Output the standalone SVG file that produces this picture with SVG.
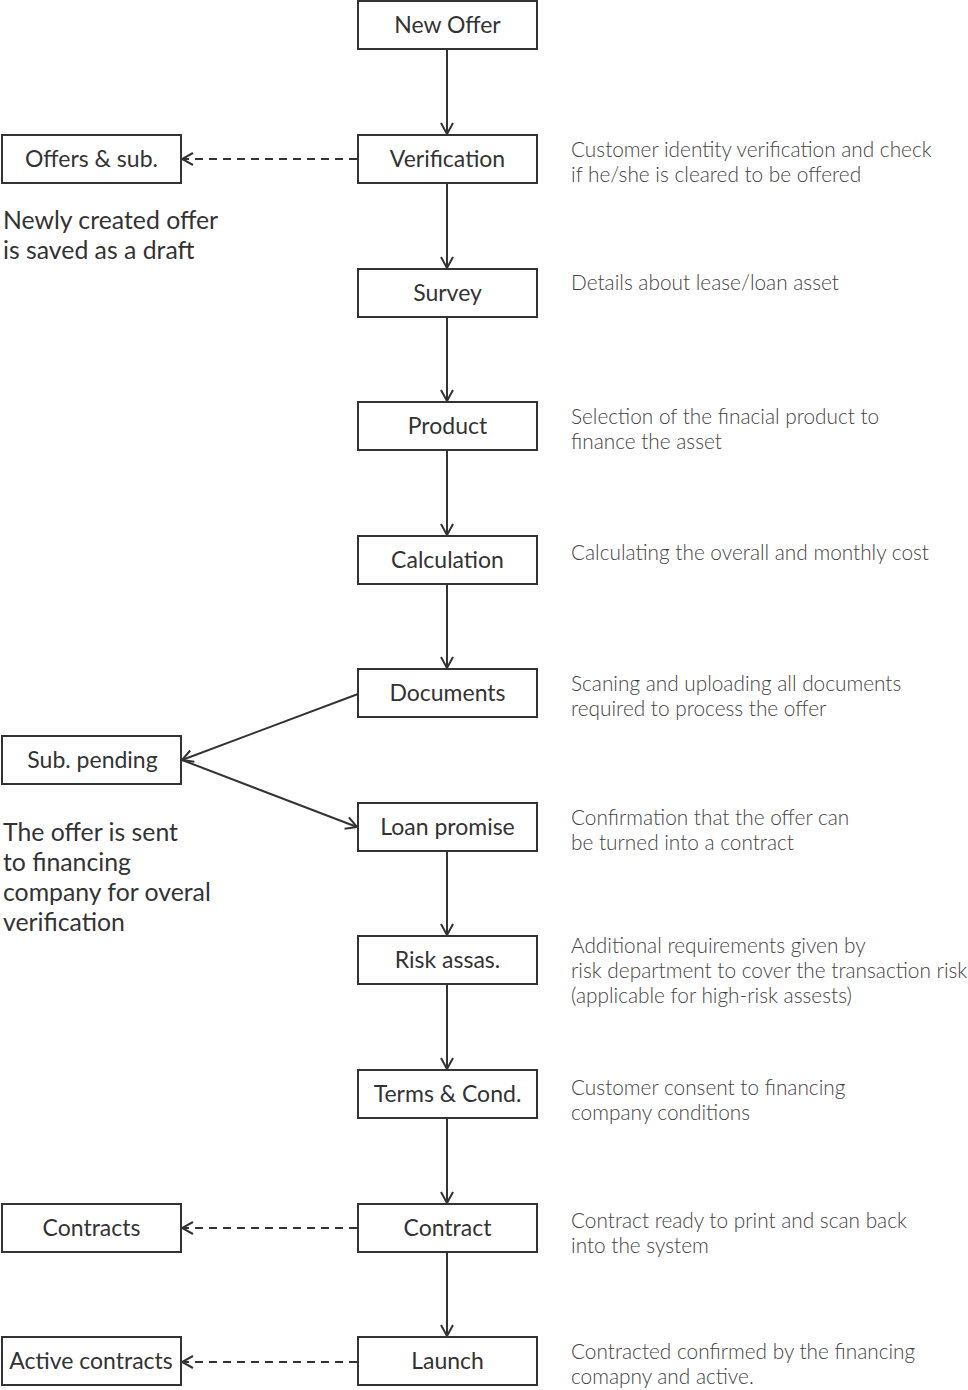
<svg xmlns="http://www.w3.org/2000/svg" width="968" height="1390" viewBox="0 0 968 1390">
<defs>
<marker id="arr" viewBox="0 0 14 14" refX="12.5" refY="7" markerWidth="14" markerHeight="14" markerUnits="userSpaceOnUse" orient="auto">
<path d="M1.5,1 L12.5,7 L1.5,13" fill="none" stroke="#333" stroke-width="2"/>
</marker>
<style>
.box rect{fill:#fff;stroke:#333;stroke-width:2}
.box text{font-family:Lato,"Liberation Sans",sans-serif;font-size:23px;fill:#333;text-anchor:middle}
.desc{font-family:Lato,"Liberation Sans",sans-serif;font-weight:300;font-size:20.8px;fill:#444}
.note{font-family:Lato,"Liberation Sans",sans-serif;font-size:24.8px;fill:#333}
.c{fill:none;stroke:#333;stroke-width:2}
.d{fill:none;stroke:#333;stroke-width:2;stroke-dasharray:8,6}
</style>
</defs>
<g id="connectors">
<line class="c" x1="447" y1="49" x2="447" y2="134" marker-end="url(#arr)"/>
<line class="c" x1="447" y1="183" x2="447" y2="268" marker-end="url(#arr)"/>
<line class="c" x1="447" y1="317" x2="447" y2="401" marker-end="url(#arr)"/>
<line class="c" x1="447" y1="450" x2="447" y2="535" marker-end="url(#arr)"/>
<line class="c" x1="447" y1="584" x2="447" y2="668" marker-end="url(#arr)"/>
<line class="c" x1="358" y1="694" x2="182" y2="760" marker-end="url(#arr)"/>
<line class="c" x1="182" y1="760" x2="357" y2="827" marker-end="url(#arr)"/>
<line class="c" x1="447" y1="851" x2="447" y2="935" marker-end="url(#arr)"/>
<line class="c" x1="447" y1="984" x2="447" y2="1069" marker-end="url(#arr)"/>
<line class="c" x1="447" y1="1118" x2="447" y2="1203" marker-end="url(#arr)"/>
<line class="c" x1="447" y1="1252" x2="447" y2="1336" marker-end="url(#arr)"/>
<line class="d" x1="357" y1="159" x2="182" y2="159" marker-end="url(#arr)"/>
<line class="d" x1="357" y1="1228" x2="182" y2="1228" marker-end="url(#arr)"/>
<line class="d" x1="357" y1="1362" x2="182" y2="1362" marker-end="url(#arr)"/>
</g>
<g id="n-new-offer" class="box"><rect x="358" y="1" width="179" height="48"/><text x="447.5" y="33">New Offer</text></g>
<g id="n-verification" class="box"><rect x="358" y="135" width="179" height="48"/><text x="447.5" y="167">Verification</text></g>
<g id="n-survey" class="box"><rect x="358" y="269" width="179" height="48"/><text x="447.5" y="301">Survey</text></g>
<g id="n-product" class="box"><rect x="358" y="402" width="179" height="48"/><text x="447.5" y="434">Product</text></g>
<g id="n-calculation" class="box"><rect x="358" y="536" width="179" height="48"/><text x="447.5" y="568">Calculation</text></g>
<g id="n-documents" class="box"><rect x="358" y="669" width="179" height="48"/><text x="447.5" y="701">Documents</text></g>
<g id="n-loan-promise" class="box"><rect x="358" y="803" width="179" height="48"/><text x="447.5" y="835">Loan promise</text></g>
<g id="n-risk" class="box"><rect x="358" y="936" width="179" height="48"/><text x="447.5" y="968">Risk assas.</text></g>
<g id="n-terms" class="box"><rect x="358" y="1070" width="179" height="48"/><text x="447.5" y="1102">Terms &amp; Cond.</text></g>
<g id="n-contract" class="box"><rect x="358" y="1204" width="179" height="48"/><text x="447.5" y="1236">Contract</text></g>
<g id="n-launch" class="box"><rect x="358" y="1337" width="179" height="48"/><text x="447.5" y="1369">Launch</text></g>
<g id="n-offers-sub" class="box"><rect x="2" y="135" width="179" height="48"/><text x="91.5" y="167">Offers &amp; sub.</text></g>
<g id="n-sub-pending" class="box"><rect x="2" y="736" width="179" height="48"/><text x="92.5" y="768">Sub. pending</text></g>
<g id="n-contracts" class="box"><rect x="2" y="1204" width="179" height="48"/><text x="91.5" y="1236">Contracts</text></g>
<g id="n-active-contracts" class="box"><rect x="2" y="1337" width="179" height="48"/><text x="91" y="1369">Active contracts</text></g>
<g id="notes">
<text class="note" x="3" y="229">Newly created offer</text>
<text class="note" x="3" y="259">is saved as a draft</text>
<text class="note" x="3" y="841">The offer is sent</text>
<text class="note" x="3" y="871">to financing</text>
<text class="note" x="3" y="901">company for overal</text>
<text class="note" x="3" y="931">verification</text>
</g>
<g id="descriptions">
<text class="desc" x="571" y="157">Customer identity verification and check</text>
<text class="desc" x="571" y="182">if he/she is cleared to be offered</text>
<text class="desc" x="571" y="290">Details about lease/loan asset</text>
<text class="desc" x="571" y="424">Selection of the finacial product to</text>
<text class="desc" x="571" y="449">finance the asset</text>
<text class="desc" x="571" y="560">Calculating the overall and monthly cost</text>
<text class="desc" x="571" y="691">Scaning and uploading all documents</text>
<text class="desc" x="571" y="716">required to process the offer</text>
<text class="desc" x="571" y="825">Confirmation that the offer can</text>
<text class="desc" x="571" y="850">be turned into a contract</text>
<text class="desc" x="571" y="953">Additional requirements given by</text>
<text class="desc" x="571" y="978">risk department to cover the transaction risk</text>
<text class="desc" x="571" y="1003">(applicable for high-risk assests)</text>
<text class="desc" x="571" y="1095">Customer consent to financing</text>
<text class="desc" x="571" y="1120">company conditions</text>
<text class="desc" x="571" y="1228">Contract ready to print and scan back</text>
<text class="desc" x="571" y="1253">into the system</text>
<text class="desc" x="571" y="1359">Contracted confirmed by the financing</text>
<text class="desc" x="571" y="1384">comapny and active.</text>
</g>
</svg>
